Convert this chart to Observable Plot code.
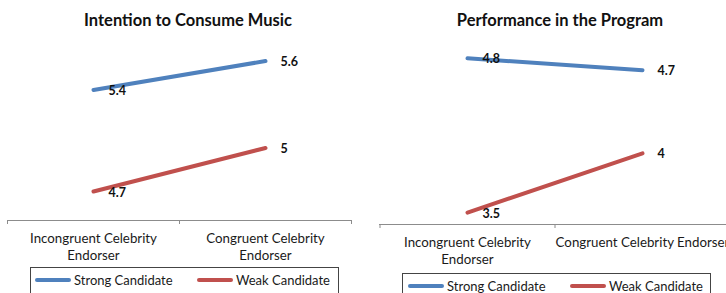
<!DOCTYPE html>
<html>
<head>
<meta charset="utf-8">
<script src="https://cdn.jsdelivr.net/npm/d3@7"></script>
<script src="https://cdn.jsdelivr.net/npm/@observablehq/plot@0.6"></script>
<style>
  html, body { margin: 0; padding: 0; background: #fff; overflow: hidden; width: 726px; height: 293px; }
  body { position: relative; font-family: Lato, "Noto Sans", sans-serif; }
  .abs { position: absolute; }
  .title { font-weight: bold; font-size: 16.5px; color: #111; white-space: nowrap; transform: translate(-50%, -50%); }
  .legend { border: 1px solid #444; height: 40px; box-sizing: border-box; }
  .item { position: absolute; top: 4px; font-size: 13px; color: #1a1a1a; white-space: nowrap; display: flex; align-items: center; }
  .swatch { display: inline-block; height: 4px; border-radius: 2px; margin-right: 3px; }
</style>
</head>
<body>
<div id="root"></div>
<script>
const categories = ["Incongruent Celebrity Endorser", "Congruent Celebrity Endorser"];
const tickLabelsLeft = ["Incongruent Celebrity\nEndorser", "Congruent Celebrity\nEndorser"];
const tickLabelsRight = ["Incongruent Celebrity\nEndorser", "Congruent Celebrity Endorser"];
const series = ["Strong Candidate", "Weak Candidate"];
const colors = ["#4F81BD", "#C0504D"];
const titles = ["Intention to Consume Music", "Performance in the Program"];
const consumeStrong = [5.4, 5.6];
const consumeWeak = [4.7, 5.0];
const perfStrong = [4.8, 4.7];
const perfWeak = [3.5, 4.0];

function rowsFrom(strong, weak) {
  const rows = [];
  [strong, weak].forEach((vals, s) => vals.forEach((v, i) => rows.push({category: categories[i], series: series[s], value: v})));
  return rows;
}

function chart({rows, domain, width, height, marginLeft, marginRight, marginBottom, tickLabels}) {
  const step = (width - marginLeft - marginRight) / categories.length;
  const axisColor = "#8c8c8c";
  return Plot.plot({
    width, height, marginTop: 46, marginLeft, marginRight, marginBottom,
    style: {fontFamily: "Lato, 'Noto Sans', sans-serif", background: "transparent", overflow: "visible"},
    x: {type: "point", domain: categories, padding: 0.5, label: null},
    y: {domain, axis: null},
    color: {domain: series, range: colors},
    marks: [
      Plot.ruleY([domain[0]], {stroke: axisColor, strokeWidth: 1}),
      Plot.axisX({tickSize: 4, tickFormat: () => "", dx: -step / 2, stroke: axisColor, label: null}),
      Plot.axisX([categories[categories.length - 1]], {tickSize: 4, tickFormat: () => "", dx: step / 2, stroke: axisColor, label: null}),
      Plot.axisX({tickSize: 0, tickPadding: 10.5, tickFormat: d => tickLabels[categories.indexOf(d)], fontSize: 13.3, lineHeight: 1.28, fill: "#1a1a1a", label: null}),
      Plot.line(rows, {x: "category", y: "value", z: "series", stroke: "series", strokeWidth: 4, strokeLinecap: "round"}),
      Plot.text(rows, {x: "category", y: "value", text: d => String(d.value), dx: 15, dy: 1, textAnchor: "start", lineAnchor: "middle", fontWeight: "bold", fontSize: 12.5, fill: "#111"})
    ]
  });
}

const root = document.getElementById("root");
function place(el, left, top) { el.classList.add("abs"); el.style.left = left + "px"; el.style.top = top + "px"; root.appendChild(el); }

const left = chart({rows: rowsFrom(consumeStrong, consumeWeak), domain: [4.5, 5.7], width: 363, height: 265, marginLeft: 7, marginRight: 12, marginBottom: 45, tickLabels: tickLabelsLeft});
place(left, 0, 0);
const right = chart({rows: rowsFrom(perfStrong, perfWeak), domain: [3.4, 4.9], width: 380, height: 270, marginLeft: 16, marginRight: 14, marginBottom: 46, tickLabels: tickLabelsRight});
place(right, 363, 0);

function title(text, cx, cy) {
  const d = document.createElement("div"); d.className = "title"; d.textContent = text; place(d, cx, cy);
}
title(titles[0], 188, 20);
title(titles[1], 560, 20);

function legend(x, y, w, offsets) {
  const box = document.createElement("div"); box.className = "legend"; box.style.width = w + "px";
  series.forEach((s, i) => {
    const it = document.createElement("div"); it.className = "item"; it.style.left = offsets[i] + "px";
    const sw = document.createElement("span"); sw.className = "swatch"; sw.style.width = "36px"; sw.style.background = colors[i];
    it.appendChild(sw); it.appendChild(document.createTextNode(s)); box.appendChild(it);
  });
  place(box, x, y);
}
legend(30, 267, 309, [4, 166]);
legend(402, 273, 309, [5, 167]);
</script>
</body>
</html>
